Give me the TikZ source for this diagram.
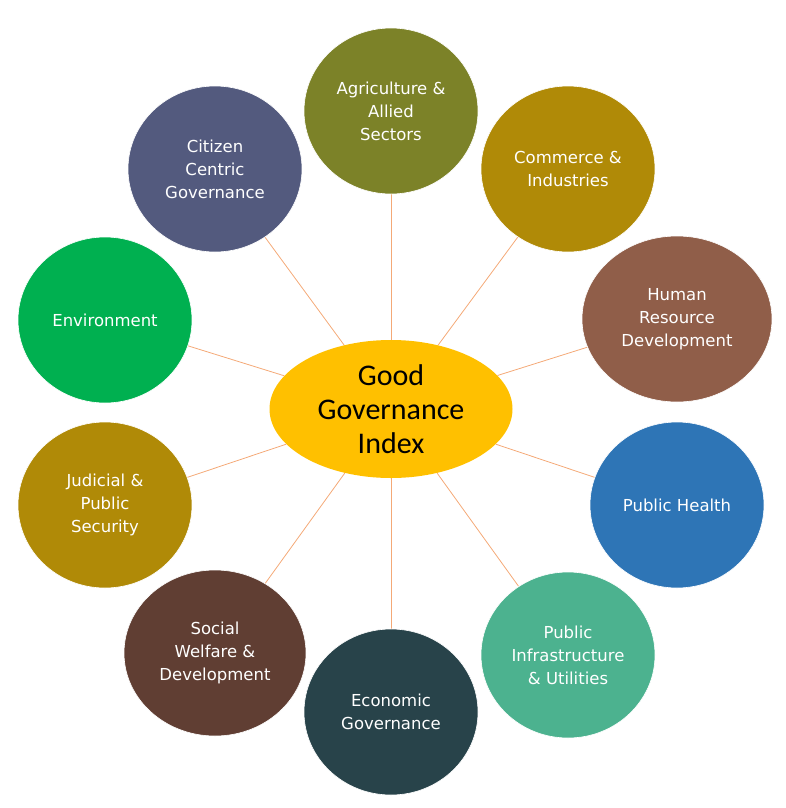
\documentclass[tikz,border=0pt]{standalone}
\usepackage{fontspec}
\setmainfont{Carlito}
\newfontfamily\bubblefont{DejaVu Sans}
\usetikzlibrary{shapes.geometric,backgrounds}
\definecolor{ggold}{HTML}{FFC000}
\definecolor{linkorange}{HTML}{F4A977}
\definecolor{olive}{HTML}{7C8228}
\definecolor{mustard}{HTML}{B08A07}
\definecolor{clay}{HTML}{905E49}
\definecolor{ofblue}{HTML}{2E75B6}
\definecolor{jade}{HTML}{4CB28F}
\definecolor{deepteal}{HTML}{28434A}
\definecolor{cocoa}{HTML}{603E33}
\definecolor{ofgreen}{HTML}{00B050}
\definecolor{dusk}{HTML}{535A7E}

\begin{document}
\begin{tikzpicture}[x=1pt, y=-1pt,
  topic/.style={ellipse, minimum width=174pt, minimum height=166pt, inner sep=0pt, draw=white, line width=0.6pt, text=white, align=center, font=\bubblefont\fontsize{16.5}{23}\selectfont},
  link/.style={draw=linkorange, line width=0.8pt}]

\useasboundingbox (0,0) rectangle (786,808);

% Index in the middle
\node[ellipse, fill=ggold, minimum width=243pt, minimum height=138pt, inner sep=0pt, align=center, font=\fontsize{30}{34}\selectfont] (gg) at (391,409) {Good\\Governance\\Index};

% Ten themes round it
\node[topic, fill=olive] (agri) at (391,111) {Agriculture \&\\Allied\\Sectors};
\node[topic, fill=mustard] (commerce) at (568,169) {Commerce \&\\Industries};
\node[topic, fill=clay, minimum width=190pt] (hrd) at (677,319) {Human\\Resource\\Development};
\node[topic, fill=ofblue] (health) at (677,505) {Public Health};
\node[topic, fill=jade] (infra) at (568,655) {Public\\Infrastructure\\\& Utilities};
\node[topic, fill=deepteal] (econ) at (391,712) {Economic\\Governance};
\node[topic, fill=cocoa, minimum width=182pt] (social) at (215,653) {Social\\Welfare \&\\Development};
\node[topic, fill=mustard] (judicial) at (105,505) {Judicial \&\\Public\\Security};
\node[topic, fill=ofgreen] (environ) at (105,320) {Environment};
\node[topic, fill=dusk] (citizen) at (215,169) {Citizen\\Centric\\Governance};

% Spokes behind everything
\begin{scope}[on background layer]
\draw[link] (gg) -- (agri);
\draw[link] (gg) -- (commerce);
\draw[link] (gg) -- (hrd);
\draw[link] (gg) -- (health);
\draw[link] (gg) -- (infra);
\draw[link] (gg) -- (econ);
\draw[link] (gg) -- (social);
\draw[link] (gg) -- (judicial);
\draw[link] (gg) -- (environ);
\draw[link] (gg) -- (citizen);
\end{scope}

\end{tikzpicture}
\end{document}
